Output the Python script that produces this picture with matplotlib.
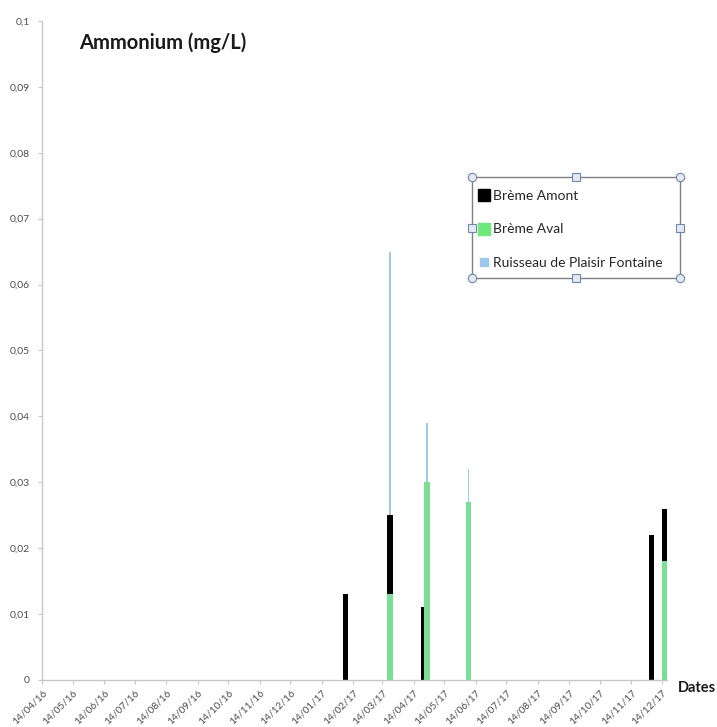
import matplotlib
matplotlib.use("Agg")
import matplotlib.pyplot as plt
import matplotlib.dates as mdates
from matplotlib.lines import Line2D
from matplotlib.patches import Rectangle
from matplotlib.ticker import FuncFormatter, MultipleLocator
import pandas as pd

plt.rcParams['font.family'] = ['Lato', 'DejaVu Sans']

# Ammonium measurements (mg/L) per station
dates_amont = ['2017-02-06', '2017-03-22', '2017-04-24', '2017-12-04', '2017-12-17']
amont = [0.013, 0.025, 0.011, 0.022, 0.026]

dates_aval = ['2017-03-22', '2017-04-27', '2017-06-07', '2017-12-17']
aval = [0.013, 0.030, 0.027, 0.018]

dates_ruisseau = ['2017-03-22', '2017-04-27', '2017-06-07']
ruisseau = [0.065, 0.039, 0.032]

series_labels = ['Brème Amont', 'Brème Aval', 'Ruisseau de Plaisir Fontaine']
series_colors = ['#000000', '#7ADF95', '#9CC8EA']

# monthly ticks on the 14th
tick_dates = pd.date_range('2016-04-01', '2017-12-01', freq='MS') + pd.Timedelta(days=13)

fig = plt.figure(figsize=(7.17, 7.27), dpi=100)
ax = fig.add_axes([0.0586, 0.0647, 0.8716, 0.9065])

to_num = lambda d: mdates.date2num(pd.to_datetime(d))

ax.bar(to_num(dates_ruisseau), ruisseau, width=1.8, color=series_colors[2], zorder=1)
ax.bar(to_num(dates_amont), amont, width=5.5, color=series_colors[0], zorder=2)
ax.bar(to_num(dates_aval), aval, width=5.5, color=series_colors[1], zorder=3)

ax.set_xlim(to_num('2016-04-14'), to_num('2017-12-19'))
ax.set_ylim(0, 0.1)

ax.yaxis.set_major_locator(MultipleLocator(0.01))
ax.yaxis.set_major_formatter(FuncFormatter(lambda v, p: f"{v:g}".replace('.', ',')))
ax.set_xticks(to_num(tick_dates))
ax.set_xticklabels([d.strftime('%d/%m/%y') for d in tick_dates],
                   rotation=45, ha='right', rotation_mode='anchor')

for side in ['top', 'right']:
    ax.spines[side].set_visible(False)
for side in ['left', 'bottom']:
    ax.spines[side].set_color('#c8c8c8')
    ax.spines[side].set_linewidth(1.0)

ax.tick_params(axis='both', colors='#c8c8c8', length=3, labelcolor='#4d4d4d')
ax.tick_params(axis='y', pad=6, labelsize=7.5)
ax.tick_params(axis='x', pad=3, labelsize=7.3)

ax.text(0.06, 0.967, 'Ammonium (mg/L)', transform=ax.transAxes,
        fontsize=14.5, fontweight='bold', color='#1a1a1a', va='center')
fig.text(0.945, 0.053, 'Dates', fontsize=10.5, fontweight='bold', color='#1a1a1a',
         va='center', ha='left')

# legend box with selection handles
x0, y0, w, h = 0.688, 0.610, 0.333, 0.153
ax.add_patch(Rectangle((x0, y0), w, h, transform=ax.transAxes, fill=False,
                       edgecolor='#808080', linewidth=1.0, clip_on=False, zorder=5))

handles = [
    Line2D([], [], marker='s', linestyle='', markersize=9, color=series_colors[0]),
    Line2D([], [], marker='s', linestyle='', markersize=9, color='#6EE87A'),
    Line2D([], [], marker='s', linestyle='', markersize=6, color=series_colors[2]),
]
leg = ax.legend(handles, series_labels, loc='upper left',
                bbox_to_anchor=(x0 + 0.003, y0 + h - 0.011), frameon=False,
                fontsize=10, handlelength=0.65, handletextpad=0.3,
                labelspacing=1.55, borderaxespad=0)
for t in leg.get_texts():
    t.set_color('#262626')

for hx, hy, kind in [(0, 0, 'c'), (0.5, 0, 's'), (1, 0, 'c'),
                     (0, 0.5, 's'), (1, 0.5, 's'),
                     (0, 1, 'c'), (0.5, 1, 's'), (1, 1, 'c')]:
    px, py = x0 + hx * w, y0 + hy * h
    ax.plot(px, py, marker='o' if kind == 'c' else 's', markersize=6,
            markerfacecolor='#e3eaf4', markeredgecolor='#7088a8',
            markeredgewidth=0.8, transform=ax.transAxes, clip_on=False, zorder=6)

fig.savefig('out.png', dpi=100)
